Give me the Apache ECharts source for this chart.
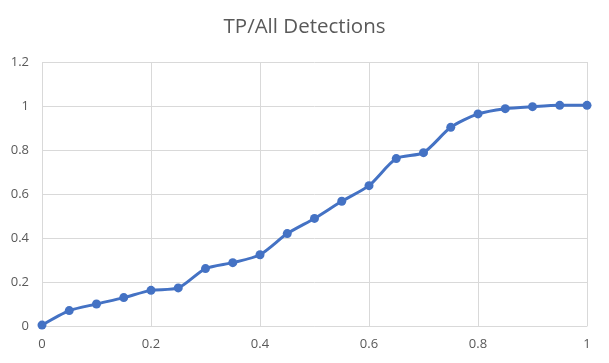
<!DOCTYPE html>
<html>
<head>
<meta charset="utf-8">
<script src="https://cdn.jsdelivr.net/npm/echarts@6/dist/echarts.min.js"></script>
<style>
  html, body { margin: 0; padding: 0; background: #fff; }
  #chart { width: 609px; height: 363px; }
</style>
</head>
<body>
<div id="chart"></div>
<script>
// x positions (threshold) and TP/All values
var xValues = [0, 0.05, 0.1, 0.15, 0.2, 0.25, 0.3, 0.35, 0.4, 0.45, 0.5,
               0.55, 0.6, 0.65, 0.7, 0.75, 0.8, 0.85, 0.9, 0.95, 1];
var tpAll = [0.004, 0.07, 0.10, 0.129, 0.162, 0.173, 0.261, 0.288, 0.324, 0.42, 0.489,
             0.567, 0.638, 0.761, 0.788, 0.903, 0.964, 0.988, 0.997, 1.003, 1.003];

var myChart = echarts.init(document.getElementById('chart'));

var option = {
  animation: false,
  title: {
    text: 'TP/All Detections',
    left: 'center',
    top: 12,
    textStyle: { fontFamily: 'Open Sans', fontSize: 20.5, fontWeight: 'normal', color: '#595959' }
  },
  grid: { left: 42, right: 22, top: 62, bottom: 37 },
  xAxis: {
    type: 'value',
    min: 0,
    max: 1,
    interval: 0.2,
    axisLine: { show: true, lineStyle: { color: '#d9d9d9' } },
    axisTick: { show: false },
    splitLine: { show: true, lineStyle: { color: '#d9d9d9' } },
    axisLabel: { color: '#595959', fontFamily: 'Open Sans', fontSize: 13, margin: 12 }
  },
  yAxis: {
    type: 'value',
    min: 0,
    max: 1.2,
    interval: 0.2,
    axisLine: { show: false },
    axisTick: { show: false },
    splitLine: { lineStyle: { color: '#d9d9d9' } },
    axisLabel: { color: '#595959', fontFamily: 'Open Sans', fontSize: 13, margin: 13 }
  },
  series: [{
    type: 'line',
    data: xValues.map(function (x, i) { return [x, tpAll[i]]; }),
    smooth: 0.25,
    symbol: 'circle',
    symbolSize: 9,
    lineStyle: { width: 3, color: '#4472C4' },
    itemStyle: { color: '#4472C4' }
  }]
};

myChart.setOption(option);
</script>
</body>
</html>
